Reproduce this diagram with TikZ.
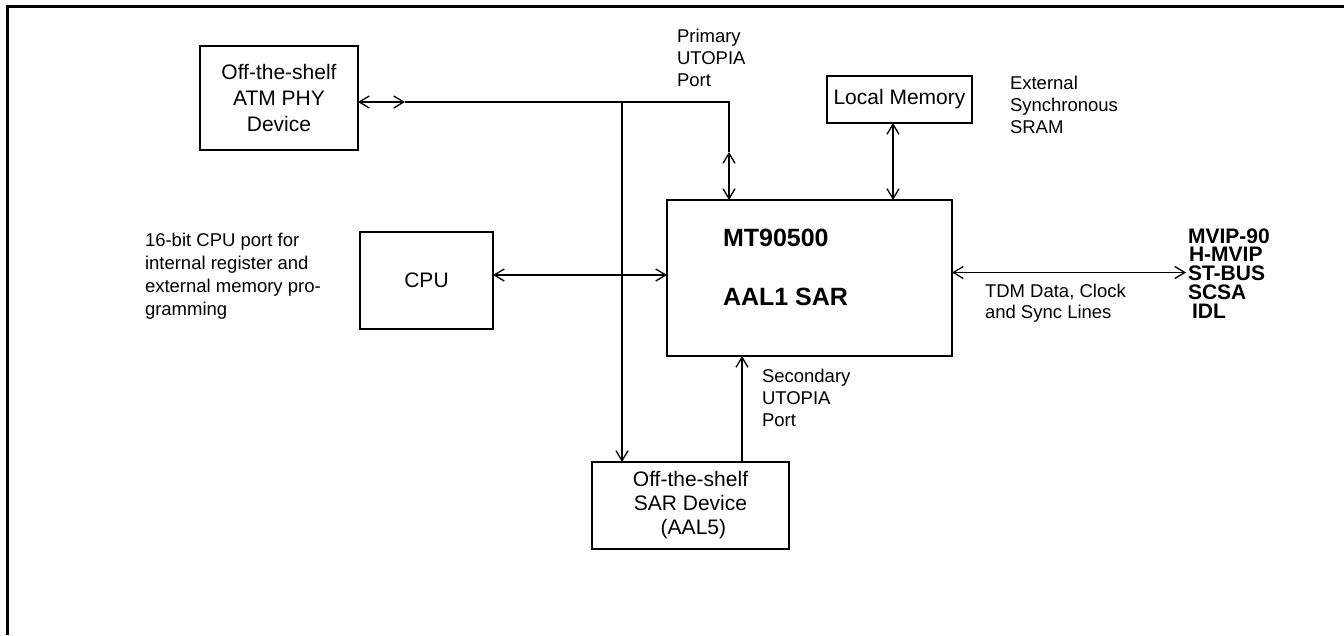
\documentclass[tikz,border=0pt]{standalone}
\usepackage{fontspec}
\setmainfont{Liberation Sans}
\usetikzlibrary{arrows.meta}
\tikzset{
  x=1pt, y=-1pt,
  conn/.style={line width=1.3pt},
  tip/.tip={Straight Barb[length=10pt,width=12pt,line width=1.3pt]},
  box/.style={draw, line width=1.3pt, inner sep=0pt, outer sep=0pt, align=center},
  lbl/.style={inner sep=0pt, outer sep=0pt, align=left, anchor=west},
  boxtxt/.style={font=\fontsize{21}{24}\selectfont},
  note/.style={font=\fontsize{18.5}{22}\selectfont},
  bld/.style={font=\fontsize{21}{19}\selectfont\bfseries},
  big/.style={font=\fontsize{25}{25}\selectfont\bfseries},
}
\begin{document}
\begin{tikzpicture}
\useasboundingbox (0,0) rectangle (1344,635);
\draw[line width=2.5pt] (7.5,635) -- (7.5,6.5) -- (1344,6.5);

% boxes
\node[box, boxtxt, minimum width=158pt, minimum height=104pt, font=\fontsize{21}{26}\selectfont] (phy) at (279,98) {Off-the-shelf\\ATM PHY\\Device};
\node[box, boxtxt, minimum width=133pt, minimum height=97pt] (cpu) at (426.5,280.5) {CPU};
\node[box, minimum width=285pt, minimum height=156pt] (sar) at (809.5,278) {};
\node[box, boxtxt, minimum width=145pt, minimum height=47pt] (mem) at (899.5,99.5) {Local Memory};
\node[box, boxtxt, minimum width=197pt, minimum height=87pt] (aal5) at (690.5,505.5) {Off-the-shelf\\SAR Device\\\ (AAL5)};

% labels in the main box
\node[lbl, big] (mt) at (723,238) {MT90500};
\node[lbl, big] (aal1) at (723,297) {AAL1 SAR};

% text labels
\node[lbl, note] (prim) at (677,58) {Primary\\UTOPIA\\Port};
\node[lbl, note] (ext) at (1010,105) {External\\Synchronous\\SRAM};
\node[lbl, note] (sec) at (762,398) {Secondary\\UTOPIA\\Port};
\node[lbl, note, font=\fontsize{18.5}{23}\selectfont] (cpunote) at (145,276) {16-bit CPU port for\\internal register and\\external memory pro-\\gramming};
\node[lbl, note, font=\fontsize{18.5}{20.5}\selectfont] (tdm) at (985,303) {TDM Data, Clock\\and Sync Lines};

\node[lbl, bld] (mvip) at (1188,236) {MVIP-90};
\node[lbl, bld] (hmvip) at (1189,254.5) {H-MVIP};
\node[lbl, bld] (stbus) at (1188,273) {ST-BUS};
\node[lbl, bld] (scsa) at (1188,292) {SCSA};
\node[lbl, bld] (idl) at (1192,311) {IDL};

% connector points
\coordinate (phyh) at (405,102);
\coordinate (jn) at (622,102);
\coordinate (pp) at (729,102);
\coordinate (pph) at (729,152);
\coordinate (mx) at (893,0);
\coordinate (sx) at (742,0);
\coordinate (tdmend) at (1186,272.5);

% connectors
\draw[conn, tip-tip] ([yshift=-4pt]phy.east) -- (phyh);
\draw[conn] (phyh) -- (pp) -- (pph);
\draw[conn, tip-tip] (pph) -- (pph |- sar.north);
\draw[conn, -tip] (jn) -- (jn |- aal5.north);
\draw[conn, tip-tip] ([yshift=5.5pt]cpu.east) -- ([yshift=5.5pt]cpu.east -| sar.west);
\draw[conn, tip-tip] (mx |- mem.south) -- (mx |- sar.north);
\draw[conn, -tip] (sx |- aal5.north) -- (sx |- sar.south);
\draw[conn, tip-tip] ([yshift=5.5pt]sar.east) -- (tdmend);
\end{tikzpicture}
\end{document}
